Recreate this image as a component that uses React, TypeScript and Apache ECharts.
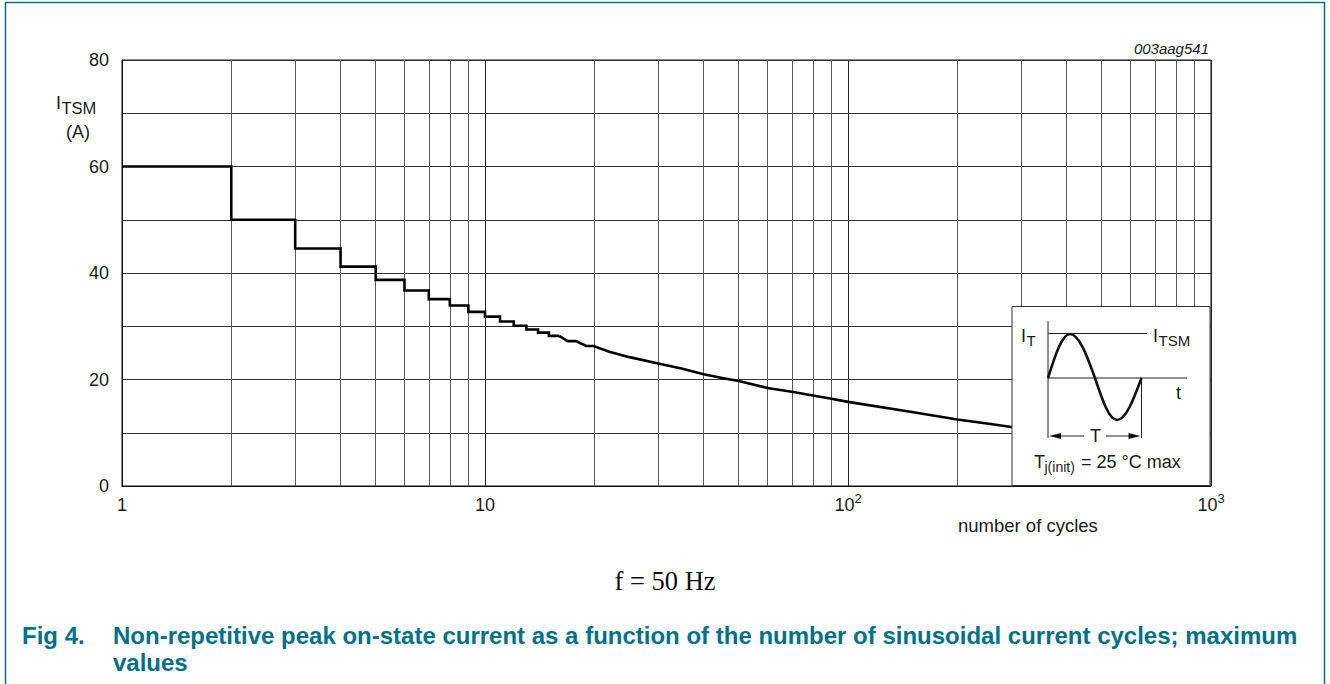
import React, { useEffect, useRef } from 'react';
import * as echarts from 'echarts';

// Stepped part (1..16 cycles)
const stepCycles = [1, 2, 3, 4, 5, 6, 7, 8, 9, 10, 11, 12, 13, 14, 15, 16];
const stepCurrent = [60, 50, 44.6, 41.2, 38.7, 36.7, 35.1, 33.9, 32.7, 31.8, 30.9, 30.1, 29.4, 28.8, 28.2, 28.2];
// Transition and smooth part
const curveCycles = [16, 16.9, 17.8, 19, 19.9, 22, 25, 30, 35, 40, 45, 50, 60, 70, 80, 90, 100, 150, 200, 250, 300];
const curveCurrent = [28.2, 27.2, 27.2, 26.3, 26.3, 25.2, 24.2, 23.0, 22.0, 21.0, 20.3, 19.7, 18.4, 17.7, 17.0, 16.4, 15.8, 13.9, 12.5, 11.6, 10.8];
// Minor vertical grid lines
const minorGrid = [2, 3, 4, 5, 6, 7, 8, 9, 20, 30, 40, 50, 60, 70, 80, 90, 200, 300, 400, 500, 600, 700, 800, 900];
const yLabelStep = 20;

const FONT = '"Liberation Sans", Arial, Helvetica, sans-serif';
const TEAL = '#007089';

function pairs(xs: number[], ys: number[]) {
  return xs.map((x, i) => [x, ys[i]]);
}

export default function App() {
  const ref = useRef<HTMLDivElement>(null);
  useEffect(() => {
    document.body.style.margin = '0';
    const chart = echarts.init(ref.current!, undefined, { renderer: 'svg' });

    const txt = (x: number, y: number, text: string, size: number, extra: any = {}) => ({
      type: 'text',
      x,
      y,
      style: {
        text,
        fontSize: size,
        fontFamily: FONT,
        fill: '#1a1a1a',
        verticalAlign: 'middle',
        ...extra,
      },
    });

    // sine wave as beziers (decoration)
    const x0 = 1048, yb = 378, q1 = 22, q2 = 25, q3 = 22, q4 = 24.5, up = 44, dn = 42;
    const b1 = { x1: x0, y1: yb, cpx1: x0 + 0.334 * q1, cpy1: yb - 0.525 * up, cpx2: x0 + 0.64 * q1, cpy2: yb - up, x2: x0 + q1, y2: yb - up };
    const xa = x0 + q1;
    const b2 = { x1: xa, y1: yb - up, cpx1: xa + 0.36 * q2, cpy1: yb - up, cpx2: xa + 0.666 * q2, cpy2: yb - 0.525 * up, x2: xa + q2, y2: yb };
    const xb = xa + q2;
    const b3 = { x1: xb, y1: yb, cpx1: xb + 0.334 * q3, cpy1: yb + 0.525 * dn, cpx2: xb + 0.64 * q3, cpy2: yb + dn, x2: xb + q3, y2: yb + dn };
    const xc = xb + q3;
    const b4 = { x1: xc, y1: yb + dn, cpx1: xc + 0.36 * q4, cpy1: yb + dn, cpx2: xc + 0.666 * q4, cpy2: yb + 0.525 * dn, x2: xc + q4, y2: yb };
    const xe = xc + q4;
    const waveStyle = { stroke: '#111', lineWidth: 2.6, fill: null };
    const thin = { stroke: '#222', lineWidth: 1 };

    const inset = {
      type: 'group',
      z: 100,
      children: [
        { type: 'rect', shape: { x: 1012, y: 306.5, width: 198, height: 179 }, style: { fill: '#fff', stroke: '#333', lineWidth: 1 }, z: 100 },
        { type: 'line', shape: { x1: x0, y1: 321, x2: x0, y2: 438 }, style: thin, z: 101 },
        { type: 'line', shape: { x1: x0, y1: 333.5, x2: 1147, y2: 333.5 }, style: thin, z: 101 },
        { type: 'line', shape: { x1: x0, y1: 378, x2: 1187, y2: 378 }, style: thin, z: 101 },
        { type: 'line', shape: { x1: xe, y1: 378, x2: xe, y2: 438 }, style: thin, z: 101 },
        { type: 'bezierCurve', shape: b1, style: waveStyle, z: 102 },
        { type: 'bezierCurve', shape: b2, style: waveStyle, z: 102 },
        { type: 'bezierCurve', shape: b3, style: waveStyle, z: 102 },
        { type: 'bezierCurve', shape: b4, style: waveStyle, z: 102 },
        { type: 'line', shape: { x1: x0 + 8, y1: 436, x2: 1084, y2: 436 }, style: thin, z: 101 },
        { type: 'line', shape: { x1: 1106, y1: 436, x2: xe - 8, y2: 436 }, style: thin, z: 101 },
        { type: 'polygon', shape: { points: [[x0 + 1, 436], [x0 + 13, 433], [x0 + 13, 439]] }, style: { fill: '#111' }, z: 101 },
        { type: 'polygon', shape: { points: [[xe - 1, 436], [xe - 13, 433], [xe - 13, 439]] }, style: { fill: '#111' }, z: 101 },
        { ...txt(1095.5, 436, 'T', 18, { align: 'center' }), z: 103 },
        { ...txt(1021, 336, 'I', 18), z: 103 },
        { ...txt(1026.5, 340, 'T', 15), z: 103 },
        { ...txt(1153, 336, 'I', 18), z: 103 },
        { ...txt(1158.5, 340, 'TSM', 15), z: 103 },
        { ...txt(1176, 393, 't', 18), z: 103 },
        { ...txt(1034, 462, 'T', 18), z: 103 },
        { ...txt(1044.5, 467, 'j(init)', 14), z: 103 },
        { ...txt(1081, 462, '= 25 °C max', 18), z: 103 },
      ],
    };

    const frame = [
      { type: 'line', shape: { x1: 5, y1: 2.5, x2: 1324.5, y2: 2.5 }, style: { stroke: TEAL, lineWidth: 1.5 }, z: 50 },
      { type: 'line', shape: { x1: 5.5, y1: 2, x2: 5.5, y2: 684 }, style: { stroke: TEAL, lineWidth: 1.5 }, z: 50 },
      { type: 'line', shape: { x1: 1324.5, y1: 2, x2: 1324.5, y2: 684 }, style: { stroke: TEAL, lineWidth: 1.5 }, z: 50 },
    ];

    const texts = [
      txt(56, 103, 'I', 18),
      txt(61.5, 107.5, 'TSM', 16.5),
      txt(66, 132, '(A)', 18),
      txt(1209, 48, '003aag541', 15, { align: 'right', fontStyle: 'italic' }),
      txt(958, 525, 'number of cycles', 18.5),
      txt(665, 581, 'f = 50 Hz', 26.5, { align: 'center', fontFamily: '"Liberation Serif", "DejaVu Serif", serif', fill: '#111' }),
      txt(22, 635, 'Fig 4.', 24, { fontWeight: 'bold', fill: TEAL }),
      txt(113, 635, 'Non-repetitive peak on-state current as a function of the number of sinusoidal current cycles; maximum', 24, { fontWeight: 'bold', fill: TEAL }),
      txt(113, 662, 'values', 24, { fontWeight: 'bold', fill: TEAL }),
    ];

    const curveLine = { color: '#000', width: 2.6, join: 'miter' };

    chart.setOption({
      animation: false,
      backgroundColor: '#fff',
      grid: { left: 122, top: 60, width: 1089, height: 426, show: true, borderColor: '#111', borderWidth: 1, backgroundColor: 'transparent' },
      xAxis: {
        type: 'log',
        logBase: 10,
        min: 1,
        max: 1000,
        axisLine: { show: true, lineStyle: { color: '#111', width: 1 } },
        axisTick: { show: false },
        splitLine: { show: true, lineStyle: { color: '#222', width: 1 } },
        axisLabel: {
          margin: 6,
          color: '#1a1a1a',
          fontFamily: FONT,
          formatter: (v: number) => {
            if (v === 1) return '{b|1}';
            if (v === 10) return '{b|10}';
            if (v === 100) return '{b|10}{s|2}';
            if (v === 1000) return '{b|10}{s|3}';
            return '';
          },
          rich: {
            b: { fontSize: 18, lineHeight: 26, fontFamily: FONT, color: '#1a1a1a' },
            s: { fontSize: 13, lineHeight: 12, verticalAlign: 'top', fontFamily: FONT, color: '#1a1a1a' },
          },
        },
      },
      yAxis: {
        type: 'value',
        min: 0,
        max: 80,
        interval: 10,
        axisLine: { show: true, lineStyle: { color: '#111' } },
        axisTick: { show: false },
        splitLine: { show: true, lineStyle: { color: '#333', width: 1 } },
        axisLabel: {
          margin: 13,
          fontSize: 18,
          fontFamily: FONT,
          color: '#1a1a1a',
          formatter: (v: number) => (v % yLabelStep === 0 ? String(v) : ''),
        },
      },
      series: [
        {
          type: 'line',
          name: 'grid',
          z: 1,
          silent: true,
          data: [[1, 0]],
          showSymbol: false,
          lineStyle: { opacity: 0 },
          markLine: {
            z: 1,
            silent: true,
            symbol: 'none',
            label: { show: false },
            lineStyle: { type: 'solid', color: '#5a5a5a', width: 1 },
            data: minorGrid.map((v) => ({ xAxis: v })),
          },
        },
        {
          type: 'line',
          z: 10,
          step: 'end',
          showSymbol: false,
          data: pairs(stepCycles, stepCurrent),
          lineStyle: curveLine,
        },
        {
          type: 'line',
          z: 10,
          showSymbol: false,
          data: pairs(curveCycles, curveCurrent),
          lineStyle: curveLine,
        },
      ],
      graphic: [...frame, ...texts, inset],
    });
    return () => chart.dispose();
  }, []);
  return <div ref={ref} style={{ width: 1330, height: 684 }} />;
}
